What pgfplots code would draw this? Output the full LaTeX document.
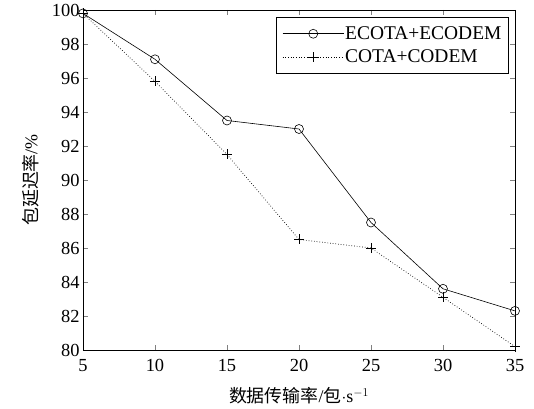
\documentclass[border=0pt]{standalone}
\usepackage{fontspec}
\setmainfont{Liberation Serif}
\newfontfamily\cjk{Noto Sans CJK SC}
\usepackage{pgfplots}
\pgfplotsset{compat=1.18}
\begin{document}
\begin{tikzpicture}
\begin{axis}[
  scale only axis,
  width=432bp, height=340bp,
  xmin=5, xmax=35, ymin=80, ymax=100,
  xtick={5,10,...,35}, ytick={80,82,...,100},
  tick align=inside,
  major tick length=5bp,
  /pgf/number format/assume math mode=true,
  ticklabel style={font=\fontsize{18.5}{18.5}\selectfont},
  xticklabel style={yshift=-6bp},
  axis line style={line width=0.9pt},
  xlabel={{\cjk 数据传输率}/{\cjk 包}$\cdot$s$^{-1}$},
  ylabel={{\cjk 包延迟率}/\%},
  label style={font=\fontsize{18}{18}\selectfont},
  xlabel style={yshift=-9bp},
  ylabel style={yshift=6bp},
  legend style={at={(rel axis cs:1,1)}, anchor=north east, xshift=-6bp, yshift=-7bp,
    draw=black, line width=1.2pt,
    font=\fontsize{19.5}{21}\selectfont, inner xsep=6bp, inner ysep=8bp, row sep=7bp,
    nodes={inner sep=1bp}},
  legend cell align=left,
  legend image code/.code={\draw[mark repeat=2,mark phase=2] plot coordinates {(0cm,0cm) (1.08cm,0cm) (2.16cm,0cm)};},
]
\addplot[black, line width=0.6pt, mark=o, mark size=4.5bp, mark options={solid, line width=0.6pt}]
  coordinates {(5,99.8) (10,97.1) (15,93.5) (20,93.0) (25,87.5) (30,83.6) (35,82.3)};
\addlegendentry{ECOTA+ECODEM}
\addplot[black, line width=0.7pt, dotted, mark=+, mark size=5bp, mark options={solid, line width=0.7pt}]
  coordinates {(5,99.8) (10,95.8) (15,91.5) (20,86.5) (25,86.0) (30,83.1) (35,80.2)};
\addlegendentry{COTA+CODEM}
\coordinate (sw) at (rel axis cs:0,0);
\coordinate (ne) at (rel axis cs:1,1);
\end{axis}
\pgfresetboundingbox
\path ([xshift=-83bp,yshift=-59bp]sw) rectangle ([xshift=19bp,yshift=10bp]ne);
\end{tikzpicture}
\end{document}
